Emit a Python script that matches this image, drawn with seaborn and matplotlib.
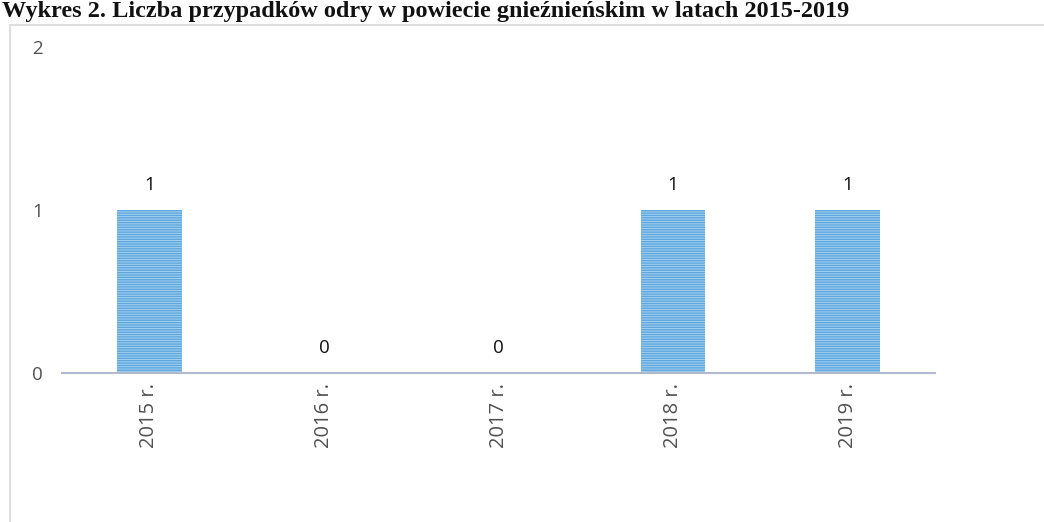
import pandas as pd
import seaborn as sns
import matplotlib.pyplot as plt
from matplotlib.patches import Rectangle

# data
years = ["2015 r.", "2016 r.", "2017 r.", "2018 r.", "2019 r."]
cases = [1, 0, 0, 1, 1]
title = "Wykres 2. Liczba przypadków odry w powiecie gnieźnieńskim w latach 2015-2019"

df = pd.DataFrame({"Rok": years, "Liczba": cases})

sns.set_theme(style="white")
plt.rcParams["font.family"] = ["Open Sans", "DejaVu Sans"]
plt.rcParams["hatch.linewidth"] = 1.0

fig = plt.figure(figsize=(10.44, 5.22), dpi=100)
# chart frame
fig.patches.append(Rectangle((10 / 1044, -0.01), 1.1, 1 - 25 / 522 + 0.01, transform=fig.transFigure,
                             fill=False, edgecolor="#d9d9d9", linewidth=1.2))
ax = fig.add_axes([62 / 1044, 1 - 373 / 522, 873 / 1044, 326 / 522])

sns.barplot(data=df, x="Rok", y="Liczba", ax=ax, width=0.37, color="#a3d0ef",
            edgecolor="#5fa8df", hatch="-------", linewidth=0, saturation=1)

for i, v in enumerate(cases):
    ax.text(i, v + 0.1, str(v), ha="center", va="bottom", fontsize=13.5, color="#111111")

ax.set_xlim(-0.5, 4.5)
ax.set_ylim(0, 2)
ax.set_yticks([0, 1, 2])
ax.set_xlabel("")
ax.set_ylabel("")
ax.tick_params(axis="both", length=0, labelsize=13.5, labelcolor="#505050")
ax.tick_params(axis="x", labelsize=14.5)
ax.tick_params(axis="y", pad=14)
ax.tick_params(axis="x", pad=7)
plt.setp(ax.get_xticklabels(), rotation=90)
for s in ["top", "right", "left"]:
    ax.spines[s].set_visible(False)
ax.spines["bottom"].set_color("#b4b8cc")
ax.spines["bottom"].set_linewidth(1.5)
ax.patch.set_alpha(0)

# title above the chart frame
fig.text(2 / 1044, 1 - 1 / 522, title, ha="left", va="top", fontsize=17.5, fontweight="bold",
         family="Liberation Serif", color="#111111")

fig.savefig("out.png", dpi=100)
